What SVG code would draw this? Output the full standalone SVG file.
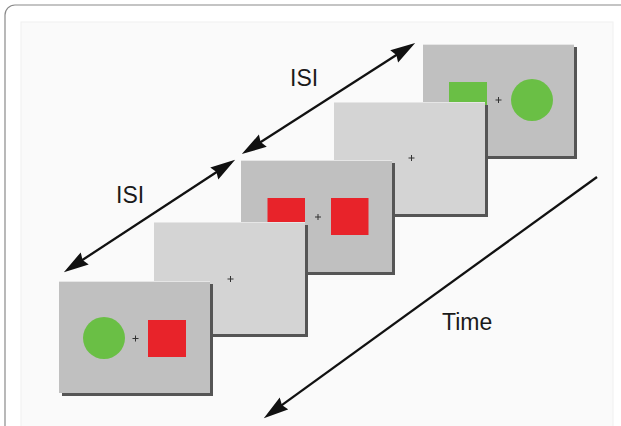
<svg xmlns="http://www.w3.org/2000/svg" width="621" height="426" viewBox="0 0 621 426">
<style>
.sh{fill:#555}
.dk{fill:#c0c0c0}
.lt{fill:#d4d4d4}
.hl{stroke:#e6e6e6;stroke-width:1}
.red{fill:#e8232a}
.grn{fill:#6abf45}
.fx{stroke:#333;stroke-width:1}
.arr{stroke:#111;stroke-width:2.3;fill:none}
.lbl{font-family:"Liberation Sans",Arial,sans-serif;font-size:23px;fill:#1a1a1a}
</style>
<defs>
<marker id="ah" markerUnits="userSpaceOnUse" markerWidth="26" markerHeight="16" refX="19" refY="7" orient="auto-start-reverse" viewBox="0 0 25 14">
<path d="M0,0 L24,7 L0,14 L2.5,7 Z" fill="#111"/>
</marker>
</defs>
<rect x="5" y="5" width="640" height="440" rx="10" fill="#fff" stroke="#8a8a8a" stroke-width="1.2"/>
<rect x="21" y="22" width="592" height="420" fill="#fafafa" stroke="#f0f0f0"/>

<g id="frame5">
<rect class="sh" x="426" y="47" width="151" height="112"/>
<rect class="dk" x="423" y="44" width="151" height="112"/>
<line class="hl" x1="423" y1="44.5" x2="574" y2="44.5"/>
<rect class="grn" x="449" y="82" width="38" height="37"/>
<circle class="grn" cx="532" cy="100" r="21"/>
<path class="fx" d="M495.5,100 h6 M498.5,97 v6"/>
</g>
<g id="frame4">
<rect class="sh" x="337" y="105" width="151" height="112"/>
<rect class="lt" x="334" y="102" width="151" height="112"/>
<line class="hl" x1="334" y1="102.5" x2="485" y2="102.5"/>
<path class="fx" d="M408.5,158 h6 M411.5,155 v6"/>
</g>
<g id="frame3">
<rect class="sh" x="244" y="163" width="151" height="112"/>
<rect class="dk" x="241" y="160" width="151" height="112"/>
<line class="hl" x1="241" y1="160.5" x2="392" y2="160.5"/>
<rect class="red" x="267.5" y="198" width="37.5" height="37"/>
<rect class="red" x="331" y="198" width="37.5" height="37"/>
<path class="fx" d="M315,217 h6 M318,214 v6"/>
</g>
<g id="frame2">
<rect class="sh" x="157" y="225" width="151" height="112"/>
<rect class="lt" x="154" y="222" width="151" height="112"/>
<line class="hl" x1="154" y1="222.5" x2="305" y2="222.5"/>
<path class="fx" d="M227.5,279 h6 M230.5,276 v6"/>
</g>
<g id="frame1">
<rect class="sh" x="62" y="284" width="151" height="112"/>
<rect class="dk" x="59" y="281" width="151" height="112"/>
<line class="hl" x1="59" y1="281.5" x2="210" y2="281.5"/>
<circle class="grn" cx="104" cy="338" r="21"/>
<rect class="red" x="148" y="320" width="38" height="37"/>
<path class="fx" d="M132.5,338.5 h6 M135.5,335.5 v6"/>
</g>

<g id="connectors">
<line class="arr" x1="68.2" y1="269.3" x2="230.8" y2="162.7" marker-start="url(#ah)" marker-end="url(#ah)"/>
<line class="arr" x1="246.2" y1="151.3" x2="410.8" y2="45.7" marker-start="url(#ah)" marker-end="url(#ah)"/>
<line class="arr" x1="597" y1="177" x2="268" y2="415.1" marker-end="url(#ah)"/>
</g>

<g id="labels">
<text class="lbl" x="116" y="203">ISI</text>
<text class="lbl" x="290" y="86">ISI</text>
<text class="lbl" x="442" y="330">Time</text>
</g>
</svg>
